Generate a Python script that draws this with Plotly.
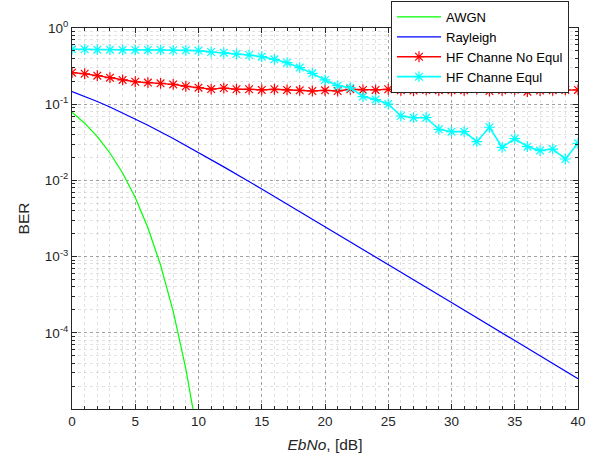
import plotly.graph_objects as go

# ---- data ----
awgn_x = [0, 1, 2, 3, 4, 5, 6, 7, 8, 9, 10]
awgn_ber = [7.86e-2, 5.63e-2, 3.75e-2, 2.29e-2, 1.25e-2, 5.95e-3, 2.39e-3, 7.73e-4, 1.91e-4, 3.36e-5, 3.87e-6]

ray_x = [0, 1, 2, 3, 4, 5, 6, 8, 10, 12, 15, 20, 25, 30, 35, 40]
ray_ber = [0.1464, 0.1267, 0.1085, 0.0919, 0.0771, 0.0642, 0.0530, 0.0355, 0.0233,
           0.01505, 0.00772, 0.00248, 7.88e-4, 2.50e-4, 7.90e-5, 2.50e-5]

hf_x = list(range(0, 41))
hf_noeq = [0.259, 0.251, 0.237, 0.223, 0.208, 0.197, 0.192, 0.188, 0.182, 0.172,
           0.165, 0.158, 0.163, 0.157, 0.157, 0.154, 0.157, 0.154, 0.152, 0.149,
           0.152, 0.149, 0.157, 0.154, 0.154, 0.157, 0.152, 0.151, 0.154, 0.152,
           0.152, 0.152, 0.158, 0.149, 0.152, 0.155, 0.146, 0.151, 0.152, 0.154, 0.154]
hf_eq = [0.525, 0.525, 0.52, 0.52, 0.515, 0.515, 0.515, 0.515, 0.51, 0.51,
         0.505, 0.484, 0.474, 0.456, 0.442, 0.42, 0.388, 0.351, 0.302, 0.254,
         0.208, 0.175, 0.165, 0.126, 0.115, 0.1006, 0.070, 0.0665, 0.0665, 0.0468,
         0.0436, 0.0436, 0.0322, 0.0498, 0.0272, 0.0353, 0.0277, 0.0246, 0.0258, 0.0191, 0.0307]

series_names = ["AWGN", "Rayleigh", "HF Channe No Equl", "HF Channe Equl"]
x_ticks = [0, 5, 10, 15, 20, 25, 30, 35, 40]
y_tickvals = [1, 0.1, 0.01, 0.001, 0.0001]
y_ticktext = ["10<sup>0</sup>", "10<sup>-1</sup>", "10<sup>-2</sup>", "10<sup>-3</sup>", "10<sup>-4</sup>"]

FONT = "Liberation Sans, Arial, sans-serif"
AX = "#262626"

fig = go.Figure()
fig.add_trace(go.Scatter(x=awgn_x, y=awgn_ber, mode="lines", name=series_names[0],
                         line=dict(color="#00ff00", width=1.2)))
fig.add_trace(go.Scatter(x=ray_x, y=ray_ber, mode="lines", name=series_names[1],
                         line=dict(color="#0000ff", width=1.2)))
fig.add_trace(go.Scatter(x=hf_x, y=hf_noeq, mode="lines+markers", name=series_names[2],
                         line=dict(color="#ff0000", width=1.3),
                         marker=dict(symbol="asterisk-open", size=9,
                                     line=dict(color="#ff0000", width=1.2))))
fig.add_trace(go.Scatter(x=hf_x, y=hf_eq, mode="lines+markers", name=series_names[3],
                         line=dict(color="#00ffff", width=1.6),
                         marker=dict(symbol="asterisk-open", size=9,
                                     line=dict(color="#00ffff", width=1.2))))

grid_major = "rgba(110,110,110,0.55)"
grid_minor = "rgba(150,150,150,0.28)"

fig.update_xaxes(
    range=[0, 40], tickvals=x_ticks, ticks="inside", ticklen=5, tickcolor=AX,
    showline=True, linecolor=AX, linewidth=1, mirror="allticks",
    showgrid=True, gridcolor=grid_major, griddash="dot", gridwidth=1,
    minor=dict(dtick=1, showgrid=True, gridcolor=grid_minor, griddash="dot",
               ticks="inside", ticklen=3, tickcolor=AX),
    zeroline=False,
    tickfont=dict(family=FONT, size=13.5, color=AX),
    title=dict(text="<i>EbNo</i>, [dB]", font=dict(family=FONT, size=15.5, color=AX), standoff=10),
)
fig.update_yaxes(
    type="log", range=[-5, 0], tickvals=y_tickvals, ticktext=y_ticktext,
    ticks="inside", ticklen=5, tickcolor=AX,
    showline=True, linecolor=AX, linewidth=1, mirror="allticks",
    showgrid=True, gridcolor=grid_major, griddash="dot", gridwidth=1,
    minor=dict(dtick="D1", showgrid=True, gridcolor=grid_minor, griddash="dot",
               ticks="inside", ticklen=3, tickcolor=AX),
    zeroline=False,
    tickfont=dict(family=FONT, size=13.5, color=AX),
    title=dict(text="BER", font=dict(family=FONT, size=15.5, color=AX), standoff=11),
)

fig.update_layout(
    width=595, height=459,
    margin=dict(l=72, r=17, t=28, b=50, autoexpand=False),
    plot_bgcolor="white", paper_bgcolor="white",
    font=dict(family=FONT, size=13, color="#000000"),
    legend=dict(xref="container", yref="container", x=391 / 595, y=1 - 1 / 459,
                xanchor="left", yanchor="top",
                bgcolor="white", bordercolor=AX, borderwidth=1,
                font=dict(family=FONT, size=13, color="#000000"),
                tracegroupgap=0, itemwidth=44),
    showlegend=True,
)

fig.write_html("out.html", config={"displayModeBar": False},
               post_script="document.body.style.margin='0';")
